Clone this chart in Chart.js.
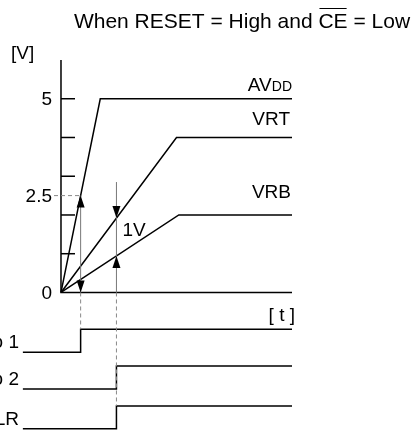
<!DOCTYPE html>
<html>
<head>
<meta charset="utf-8">
<script src="https://cdn.jsdelivr.net/npm/chart.js@4/dist/chart.umd.min.js"></script>
<style>
  html, body { margin: 0; padding: 0; background: #fff; }
  #wrap { width: 414px; height: 430px; position: relative; }
</style>
</head>
<body>
<div id="wrap"><canvas id="timing"></canvas></div>
<script>
// supply ramps: [time, volts] (time in arbitrary units)
const tEnd = 10;
const avdd = [[0, 0], [1.7, 5], [tEnd, 5]];
const vrt = [[0, 0], [5, 4], [tEnd, 4]];
const vrb = [[0, 0], [5.1, 2], [tEnd, 2]];
const rampNames = ['AVDD', 'VRT', 'VRB'];

// y axis ticks and labels
const yTicks = [1, 2, 3, 4, 5];
const yLabels = [0, 2.5, 5];

// logic signals: name, start time, rising edge time
const logicNames = ['φ 1', 'φ 2', 'CLR'];
const logicStart = -1.65;
const logicEdges = [0.85, 2.4, 2.4];

// measurement arrows
const halfPoint = 0.85;   // AVDD at 2.5 V
const gapPoint = 2.4;     // VRT - VRB = 1V
const gapTop = 2.85;

// lane layout (y units) for the logic traces
const laneBase = [-1.54, -2.49, -3.52];
const laneSwing = 0.59;

const FONT = '"Liberation Sans", Arial, sans-serif';

function logicData(i) {
  const lo = laneBase[i], hi = laneBase[i] + laneSwing;
  const e = logicEdges[i];
  return [{x: logicStart, y: lo}, {x: e, y: lo}, {x: e, y: hi}, {x: tEnd, y: hi}];
}
const toPts = arr => arr.map(p => ({x: p[0], y: p[1]}));

function line(data) {
  return {data: data, borderColor: '#000', borderWidth: 1.5, pointRadius: 0,
          showLine: true, fill: false, tension: 0, clip: false};
}

function arrowHead(ctx, x, tipY, dir) {
  // dir = -1 points up, 1 points down
  ctx.beginPath();
  ctx.moveTo(x, tipY);
  ctx.lineTo(x - 4, tipY - dir * 12);
  ctx.lineTo(x + 4, tipY - dir * 12);
  ctx.closePath();
  ctx.fill();
}

const overlay = {
  id: 'overlay',
  afterDatasetsDraw(chart) {
    const ctx = chart.ctx;
    const xs = chart.scales.x, ys = chart.scales.y;
    const X = v => xs.getPixelForValue(v), Y = v => ys.getPixelForValue(v);
    const x0 = X(0);
    ctx.save();

    // tick marks
    ctx.strokeStyle = '#000';
    ctx.lineWidth = 1.5;
    yTicks.forEach(t => {
      ctx.beginPath();
      ctx.moveTo(x0, Y(t));
      ctx.lineTo(x0 + 14, Y(t));
      ctx.stroke();
    });

    // tick labels
    ctx.fillStyle = '#000';
    ctx.font = '19px ' + FONT;
    ctx.textAlign = 'right';
    ctx.textBaseline = 'middle';
    yLabels.forEach(v => ctx.fillText(String(v), 52, Y(v) + 1));
    ctx.textAlign = 'left';
    ctx.fillText('[V]', 11, 54);

    // dashed guides
    ctx.strokeStyle = '#888';
    ctx.lineWidth = 1;
    ctx.setLineDash([4, 3]);
    ctx.beginPath();
    ctx.moveTo(54, Y(2.5));
    ctx.lineTo(X(halfPoint), Y(2.5));
    ctx.moveTo(X(halfPoint), Y(0));
    ctx.lineTo(X(halfPoint), Y(laneBase[0] + laneSwing));
    ctx.moveTo(X(gapPoint), Y(0));
    ctx.lineTo(X(gapPoint), Y(laneBase[2] + laneSwing));
    ctx.stroke();
    ctx.setLineDash([]);

    // arrow shafts
    ctx.strokeStyle = '#777';
    ctx.beginPath();
    ctx.moveTo(X(halfPoint), Y(2.5));
    ctx.lineTo(X(halfPoint), Y(0));
    ctx.moveTo(X(gapPoint), Y(gapTop));
    ctx.lineTo(X(gapPoint), Y(0));
    ctx.stroke();

    // arrow heads
    ctx.fillStyle = '#000';
    arrowHead(ctx, X(halfPoint), Y(2.5), -1);
    arrowHead(ctx, X(halfPoint), Y(0), 1);
    const vrtAt = vrt[1][1] * gapPoint / vrt[1][0];
    const vrbAt = vrb[1][1] * gapPoint / vrb[1][0];
    arrowHead(ctx, X(gapPoint), Y(vrtAt), 1);
    arrowHead(ctx, X(gapPoint), Y(vrbAt), -1);

    // text labels
    ctx.font = '19px ' + FONT;
    ctx.textAlign = 'left';
    ctx.textBaseline = 'alphabetic';
    ctx.fillText('1V', X(gapPoint) + 6, Y(1.5) + 2);

    const right = X(tEnd);
    // AVDD with small DD
    ctx.font = '14px ' + FONT;
    const wDD = ctx.measureText('DD').width;
    ctx.textAlign = 'right';
    ctx.fillText('DD', right, Y(5) - 8);
    ctx.font = '19px ' + FONT;
    ctx.fillText('AV', right - wDD, Y(5) - 8);
    ctx.fillText(rampNames[1], right - 2, Y(4) - 12);
    ctx.fillText(rampNames[2], right - 1, Y(2) - 17);
    ctx.fillText('[ t ]', right + 3, Y(0) + 29);

    logicNames.forEach((n, i) => {
      ctx.fillText(n, 19, Y(laneBase[i]) - 4);
    });

    // title with overline on CE
    ctx.font = '21px ' + FONT;
    ctx.textAlign = 'left';
    const p1 = 'When RESET = High and ', p2 = 'CE', p3 = ' = Low';
    const w1 = ctx.measureText(p1).width, w2 = ctx.measureText(p2).width, w3 = ctx.measureText(p3).width;
    let tx = 242 - (w1 + w2 + w3) / 2;
    const ty = 28;
    ctx.fillText(p1, tx, ty);
    ctx.fillText(p2, tx + w1, ty);
    ctx.fillText(p3, tx + w1 + w2, ty);
    ctx.lineWidth = 1;
    ctx.strokeStyle = '#000';
    ctx.beginPath();
    ctx.moveTo(tx + w1 + 1, 8.5);
    ctx.lineTo(tx + w1 + w2 - 1, 8.5);
    ctx.stroke();

    ctx.restore();
  }
};

new Chart(document.getElementById('timing'), {
  type: 'scatter',
  data: {
    datasets: [
      line([{x: 0, y: 6}, {x: 0, y: 0}, {x: tEnd, y: 0}]),  // axes
      line(toPts(avdd)),
      line(toPts(vrt)),
      line(toPts(vrb)),
      line(logicData(0)),
      line(logicData(1)),
      line(logicData(2))
    ]
  },
  options: {
    responsive: true,
    maintainAspectRatio: false,
    animation: false,
    layout: {padding: {top: 60, left: 0, right: 0, bottom: 0}},
    plugins: {legend: {display: false}, tooltip: {enabled: false}},
    scales: {
      x: {type: 'linear', display: false, min: -2.64, max: 15.28},
      y: {type: 'linear', display: false, min: -3.55, max: 6}
    }
  },
  plugins: [overlay]
});
</script>
</body>
</html>
